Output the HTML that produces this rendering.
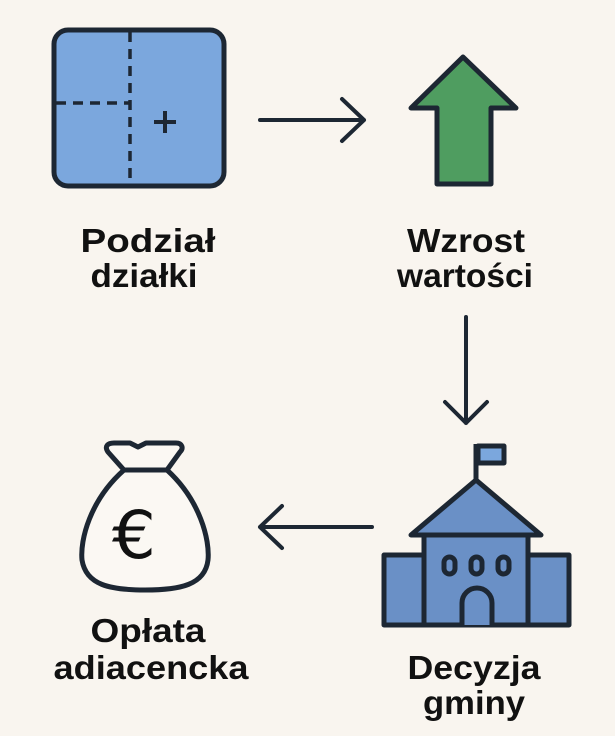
<!DOCTYPE html>
<html><head><style>
body{margin:0;background:#f9f5ef;}
svg{display:block}
text{font-family:"Liberation Sans",sans-serif;font-weight:bold;font-size:33px;fill:#111;text-anchor:middle}
</style></head><body>
<svg width="615" height="736" viewBox="0 0 615 736">
<rect width="615" height="736" fill="#f9f5ef"/>
<rect x="54" y="30" width="170" height="156" rx="14" fill="#7ba7dd" stroke="#1d2733" stroke-width="5"/>
<line x1="130" y1="32" x2="130" y2="184" stroke="#1d2733" stroke-width="3.5" stroke-dasharray="10,7"/>
<line x1="56" y1="103" x2="130" y2="103" stroke="#1d2733" stroke-width="3.5" stroke-dasharray="10,7"/>
<path d="M165 111v22M154 122h22" stroke="#1d2733" stroke-width="4"/>
<path d="M463 57 L516 108 L491 108 L491 184 L437 184 L437 108 L411 108 Z" fill="#4f9d60" stroke="#1d2733" stroke-width="5" stroke-linejoin="round"/>
<g stroke="#1d2733" stroke-width="4" fill="none" stroke-linecap="round" stroke-linejoin="round">
<path d="M260 120H364M342 99L364 120L342 141"/>
<path d="M466 317V423M445 402L466 423L487 402"/>
<path d="M372 527H260M282 506L260 527L282 548"/>
</g>
<g stroke="#1d2733" stroke-width="5" stroke-linejoin="round" fill="#6a90c6">
<line x1="476" y1="480" x2="476" y2="444"/>
<rect x="478" y="446" width="26" height="17" fill="#7ba7dd"/>
<rect x="384" y="555" width="40" height="70"/>
<rect x="528" y="555" width="41" height="70"/>
<rect x="424" y="535" width="104" height="90"/>
<path d="M476 480L541 535L411 535Z"/>
<path d="M462 625V603a15 15 0 0 1 30 0V625"/>
<rect x="444" y="557" width="11" height="17" rx="5.5"/>
<rect x="471" y="557" width="11" height="17" rx="5.5"/>
<rect x="498" y="557" width="11" height="17" rx="5.5"/>
</g>
<g stroke="#1d2733" stroke-width="5" fill="#fbf8f3" stroke-linejoin="round">
<path d="M124 470 C90 500 80 540 82 560 C86 585 110 590 145 590 C180 590 205 585 208 560 C210 540 200 500 167 470 Z"/>
<path d="M124 470 L108 452 C104 446 108 443 114 443 L130 443 L138 447 L146 443 L176 443 C182 443 184 448 180 452 L167 470 Z"/>
</g>
<text x="134" y="558" textLength="44" lengthAdjust="spacingAndGlyphs" style="font-size:66px;font-weight:normal;font-family:'DejaVu Sans',sans-serif">€</text>
<text x="148" y="252" textLength="135" lengthAdjust="spacingAndGlyphs">Podział</text>
<text x="144" y="287" textLength="107" lengthAdjust="spacingAndGlyphs">działki</text>
<text x="466" y="252" textLength="118" lengthAdjust="spacingAndGlyphs">Wzrost</text>
<text x="465" y="287" textLength="136" lengthAdjust="spacingAndGlyphs">wartości</text>
<text x="148" y="642" textLength="115" lengthAdjust="spacingAndGlyphs">Opłata</text>
<text x="151" y="679" textLength="195" lengthAdjust="spacingAndGlyphs">adiacencka</text>
<text x="474" y="679" textLength="133" lengthAdjust="spacingAndGlyphs">Decyzja</text>
<text x="474" y="714" textLength="102" lengthAdjust="spacingAndGlyphs">gminy</text>
</svg>
</body></html>
